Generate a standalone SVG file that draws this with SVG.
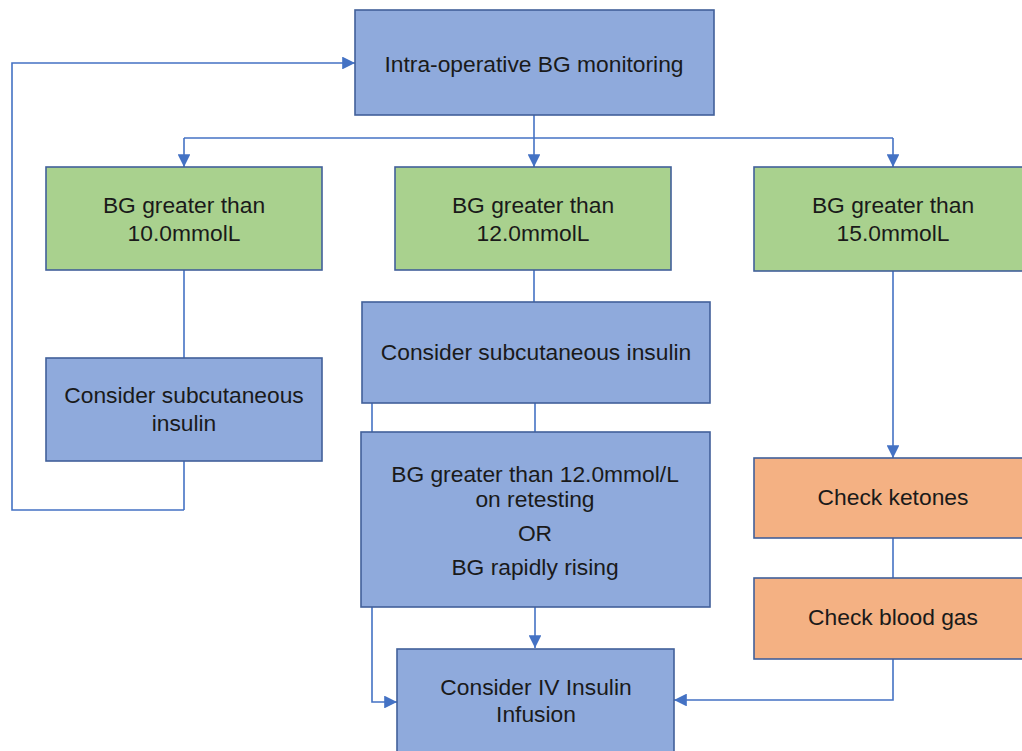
<svg xmlns="http://www.w3.org/2000/svg" width="1022" height="751" viewBox="0 0 1022 751">
<defs>
<marker id="ah" viewBox="0 0 10 10" refX="10" refY="5" markerWidth="8.5" markerHeight="8" orient="auto" markerUnits="strokeWidth">
<path d="M0,0 L10,5 L0,10 z" fill="#4472C4"/>
</marker>
<style>
.box{stroke:#41609A;stroke-width:1.6}
.blue{fill:#8FAADC}
.green{fill:#A9D18E}
.orange{fill:#F4B183}
.t{font-family:"Liberation Sans",Arial,sans-serif;font-size:22.8px;fill:#1a1a1a;text-anchor:middle}
.c{fill:none;stroke:#4472C4;stroke-width:1.6}
</style>
</defs>
<rect width="1022" height="751" fill="#ffffff"/>
<g id="connectors">
<path class="c" d="M184,510 L12,510 L12,63 L355,63" marker-end="url(#ah)"/>
<path class="c" d="M184,461 L184,510"/>
<path class="c" d="M534,115 L534,167" marker-end="url(#ah)"/>
<path class="c" d="M184,138 L893,138"/>
<path class="c" d="M184,138 L184,167" marker-end="url(#ah)"/>
<path class="c" d="M893,138 L893,167" marker-end="url(#ah)"/>
<path class="c" d="M184,270 L184,358"/>
<path class="c" d="M534,270 L534,302"/>
<path class="c" d="M535,403 L535,432"/>
<path class="c" d="M372,403 L372,432"/>
<path class="c" d="M372,607 L372,702 L397,702" marker-end="url(#ah)"/>
<path class="c" d="M535,607 L535,648" marker-end="url(#ah)"/>
<path class="c" d="M893,271 L893,458" marker-end="url(#ah)"/>
<path class="c" d="M893,538 L893,578"/>
<path class="c" d="M893,659 L893,700 L674,700" marker-end="url(#ah)"/>
</g>
<g id="n-monitor">
<rect class="box blue" x="355" y="10" width="359" height="105"/>
<text class="t" x="534" y="72">Intra-operative BG monitoring</text>
</g>
<g id="n-bg10">
<rect class="box green" x="46" y="167" width="276" height="103"/>
<text class="t" x="184" y="213">BG greater than</text>
<text class="t" x="184" y="241">10.0mmolL</text>
</g>
<g id="n-bg12">
<rect class="box green" x="395" y="167" width="276" height="103"/>
<text class="t" x="533" y="213">BG greater than</text>
<text class="t" x="533" y="241">12.0mmolL</text>
</g>
<g id="n-bg15">
<rect class="box green" x="754" y="167" width="280" height="104"/>
<text class="t" x="893" y="213">BG greater than</text>
<text class="t" x="893" y="241">15.0mmolL</text>
</g>
<g id="n-subcut-left">
<rect class="box blue" x="46" y="358" width="276" height="103"/>
<text class="t" x="184" y="403">Consider subcutaneous</text>
<text class="t" x="184" y="431">insulin</text>
</g>
<g id="n-subcut-mid">
<rect class="box blue" x="362" y="302" width="348" height="101"/>
<text class="t" x="536" y="360">Consider subcutaneous insulin</text>
</g>
<g id="n-retest">
<rect class="box blue" x="361" y="432" width="349" height="175"/>
<text class="t" x="535" y="482">BG greater than 12.0mmol/L</text>
<text class="t" x="535" y="507">on retesting</text>
<text class="t" x="535" y="541">OR</text>
<text class="t" x="535" y="575">BG rapidly rising</text>
</g>
<g id="n-iv">
<rect class="box blue" x="397" y="649" width="277" height="110"/>
<text class="t" x="536" y="695">Consider IV Insulin</text>
<text class="t" x="536" y="722">Infusion</text>
</g>
<g id="n-ketones">
<rect class="box orange" x="754" y="458" width="280" height="80"/>
<text class="t" x="893" y="505">Check ketones</text>
</g>
<g id="n-gas">
<rect class="box orange" x="754" y="578" width="280" height="81"/>
<text class="t" x="893" y="625">Check blood gas</text>
</g>
</svg>
